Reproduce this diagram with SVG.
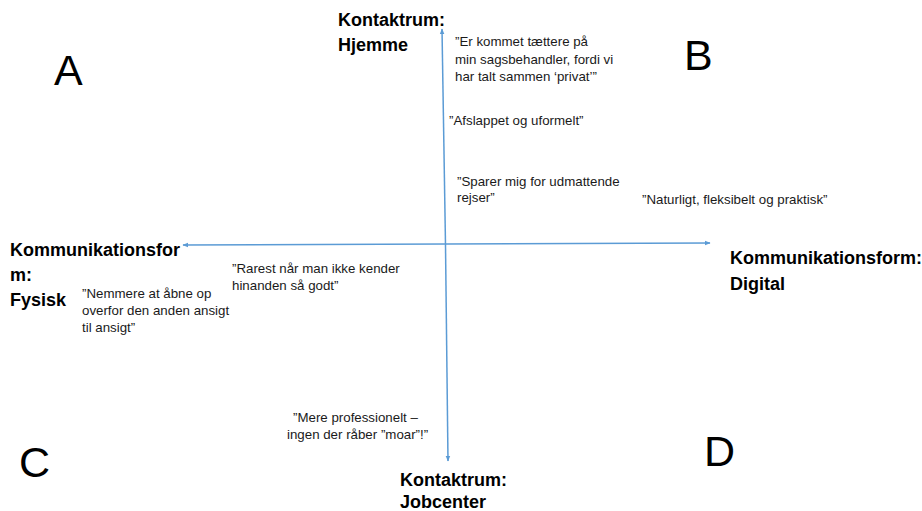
<svg xmlns="http://www.w3.org/2000/svg" width="922" height="511" viewBox="0 0 922 511">
<style>
.q{font-family:"Liberation Sans",Arial,sans-serif;font-size:13.3px;fill:#1a1a1a}
.h{font-family:"Liberation Sans",Arial,sans-serif;font-size:18px;font-weight:bold;fill:#000}
.big{font-family:"Liberation Sans",Arial,sans-serif;font-size:43px;fill:#000}
.ax{stroke:#5B9BD5;stroke-width:1.5;fill:none}
</style>
<defs>
<marker id="arr" viewBox="0 0 10 10" refX="9" refY="5" markerWidth="6" markerHeight="6" orient="auto" markerUnits="userSpaceOnUse">
<path d="M0,1 L10,5 L0,9 z" fill="#5B9BD5"/>
</marker>
</defs>
<rect width="922" height="511" fill="#fff"/>
<g id="connectors">
<line class="ax" x1="445.5" y1="245" x2="442" y2="29" marker-end="url(#arr)"/>
<line class="ax" x1="445.5" y1="245" x2="448" y2="461" marker-end="url(#arr)"/>
<line class="ax" x1="445.5" y1="244" x2="183" y2="245" marker-end="url(#arr)"/>
<line class="ax" x1="445.5" y1="244" x2="710" y2="243" marker-end="url(#arr)"/>
</g>
<g id="quadrant-A"><text class="big" x="54" y="85">A</text></g>
<g id="quadrant-B"><text class="big" x="684" y="70">B</text></g>
<g id="quadrant-C"><text class="big" x="19" y="477">C</text></g>
<g id="quadrant-D"><text class="big" x="704" y="466">D</text></g>
<g id="axis-top"><text class="h" x="338" y="26">Kontaktrum:</text><text class="h" x="338" y="51">Hjemme</text></g>
<g id="axis-bottom"><text class="h" x="400" y="486">Kontaktrum:</text><text class="h" x="400" y="508">Jobcenter</text></g>
<g id="axis-left"><text class="h" x="10" y="256">Kommunikationsfor</text><text class="h" x="10" y="281">m:</text><text class="h" x="10" y="306">Fysisk</text></g>
<g id="axis-right"><text class="h" x="730" y="264">Kommunikationsform:</text><text class="h" x="730" y="290">Digital</text></g>
<g id="quote-1"><text class="q" x="455" y="46">”Er kommet tættere på</text><text class="q" x="455" y="64">min sagsbehandler, fordi vi</text><text class="q" x="455" y="81">har talt sammen ‘privat’”</text></g>
<g id="quote-2"><text class="q" x="449" y="125">”Afslappet og uformelt”</text></g>
<g id="quote-3"><text class="q" x="457" y="186">”Sparer mig for udmattende</text><text class="q" x="457" y="202">rejser”</text></g>
<g id="quote-4"><text class="q" x="642" y="204">”Naturligt, fleksibelt og praktisk”</text></g>
<g id="quote-5"><text class="q" x="232" y="273">”Rarest når man ikke kender</text><text class="q" x="232" y="290">hinanden så godt”</text></g>
<g id="quote-6"><text class="q" x="82" y="298">”Nemmere at åbne op</text><text class="q" x="82" y="315">overfor den anden ansigt</text><text class="q" x="82" y="332">til ansigt”</text></g>
<g id="quote-7"><text class="q" x="293" y="422">”Mere professionelt –</text><text class="q" x="287" y="439">ingen der råber ”moar”!”</text></g>
</svg>
